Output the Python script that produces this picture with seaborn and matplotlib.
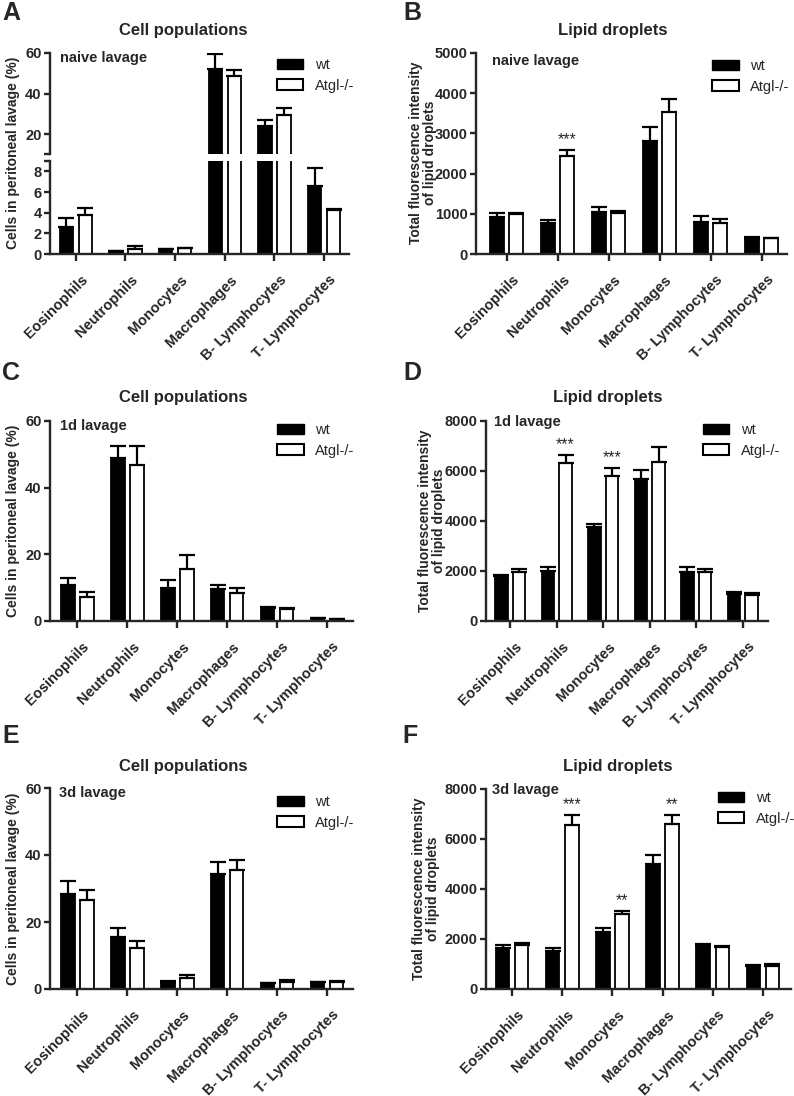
import seaborn as sns
import matplotlib.pyplot as plt
import matplotlib.transforms as mtransforms
import pandas as pd
import numpy as np
from matplotlib.patches import Patch

# ---- data ----
cells = ['Eosinophils', 'Neutrophils', 'Monocytes', 'Macrophages',
         'B- Lymphocytes', 'T- Lymphocytes']
groups = ['wt', 'Atgl-/-']

# A: cell populations, naive lavage (%)
naive_pop_wt = [2.6, 0.25, 0.45, 52.0, 23.9, 6.6]
naive_pop_wt_err = [0.85, 0.05, 0.05, 7.3, 3.2, 1.7]
naive_pop_ko = [3.8, 0.45, 0.55, 48.8, 29.6, 4.25]
naive_pop_ko_err = [0.65, 0.3, 0.05, 2.6, 3.3, 0.12]

# B: lipid droplets, naive lavage
naive_lip_wt = [920, 780, 1040, 2810, 800, 390]
naive_lip_wt_err = [100, 60, 120, 350, 150, 30]
naive_lip_ko = [1000, 2440, 1030, 3540, 780, 390]
naive_lip_ko_err = [30, 150, 30, 320, 80, 20]
naive_lip_stars = ['', '***', '', '', '', '']

# C: cell populations, 1d lavage
d1_pop_wt = [10.8, 49.0, 10.0, 9.5, 3.8, 0.8]
d1_pop_wt_err = [2.0, 3.4, 2.2, 1.3, 0.5, 0.1]
d1_pop_ko = [7.1, 46.8, 15.6, 8.3, 3.5, 0.6]
d1_pop_ko_err = [1.7, 5.7, 4.2, 1.5, 0.4, 0.1]

# D: lipid droplets, 1d lavage
d1_lip_wt = [1800, 2020, 3750, 5690, 1980, 1100]
d1_lip_wt_err = [50, 140, 150, 360, 190, 80]
d1_lip_ko = [1970, 6320, 5820, 6350, 1980, 1060]
d1_lip_ko_err = [110, 320, 310, 620, 120, 60]
d1_lip_stars = ['', '***', '***', '', '', '']

# E: cell populations, 3d lavage
d3_pop_wt = [28.4, 15.4, 2.2, 34.2, 1.7, 2.0]
d3_pop_wt_err = [3.9, 2.8, 0.1, 3.7, 0.1, 0.1]
d3_pop_ko = [26.6, 12.3, 3.4, 35.5, 2.2, 2.1]
d3_pop_ko_err = [3.0, 2.0, 0.7, 3.0, 0.5, 0.2]

# F: lipid droplets, 3d lavage
d3_lip_wt = [1650, 1530, 2290, 5020, 1750, 930]
d3_lip_wt_err = [110, 120, 160, 330, 60, 40]
d3_lip_ko = [1770, 6570, 3000, 6620, 1690, 930]
d3_lip_ko_err = [70, 390, 120, 340, 50, 60]
d3_lip_stars = ['', '***', '**', '**', '', '']

sns.set_style('ticks')
plt.rcParams['font.family'] = ['Liberation Sans', 'DejaVu Sans']
plt.rcParams['font.weight'] = 'bold'
plt.rcParams['axes.labelweight'] = 'bold'

W, H = 794, 1096
fig = plt.figure(figsize=(W / 100, H / 100), dpi=100)


def add_ax(l, t, r, b):
    # axes placed in pixel coordinates of the reference
    return fig.add_axes([l / W, 1 - b / H, (r - l) / W, (b - t) / H])


def fig_text(x, y, s, **kw):
    fig.text(x / W, 1 - y / H, s, **kw)


def draw_bars(ax, wt, wt_err, ko, ko_err, stars=None):
    df = pd.DataFrame({'cell': cells * 2,
                       'genotype': [groups[0]] * 6 + [groups[1]] * 6,
                       'value': wt + ko})
    sns.barplot(data=df, x='cell', y='value', hue='genotype',
                palette=['black', 'white'], edgecolor='black', linewidth=1.3,
                width=0.76, gap=0.29, errorbar=None, legend=False, ax=ax)
    for cont, err in zip(ax.containers, [wt_err, ko_err]):
        for bar, e in zip(cont, err):
            cx = bar.get_x() + bar.get_width() / 2
            ax.errorbar(cx, bar.get_height(), yerr=[[0], [e]], fmt='none',
                        ecolor='black', elinewidth=1.6, capsize=5.5,
                        capthick=1.6, zorder=1)
    if stars:
        ymax = ax.get_ylim()[1]
        for bar, e, s in zip(ax.containers[1], ko_err, stars):
            if s:
                cx = bar.get_x() + bar.get_width() / 2
                ax.text(cx, bar.get_height() + e + 0.03 * ymax, s,
                        ha='center', va='baseline', fontsize=11.5,
                        fontweight='normal')


def style(ax, xlim=(-0.55, 5.52)):
    sns.despine(ax=ax)
    for s in ['left', 'bottom']:
        ax.spines[s].set_linewidth(1.7)
    ax.tick_params(width=1.7, length=4, labelsize=10.5, pad=2)
    ax.set_xlabel('')
    ax.set_ylabel('')
    ax.set_xlim(*xlim)
    ax.set_xticks(range(len(cells)))
    ax.set_xticklabels(cells, rotation=45, ha='right', va='center',
                       rotation_mode='anchor', fontsize=10.5)
    ax.tick_params(axis='x', length=5, pad=6)
    # nudge the slanted labels down-right, like the original
    shift = mtransforms.ScaledTranslation(7 / 72, -6 / 72, fig.dpi_scale_trans)
    for lab in ax.get_xticklabels():
        lab.set_transform(lab.get_transform() + shift)


def add_legend(ax, x, y):
    handles = [Patch(facecolor='black', edgecolor='black', label=groups[0]),
               Patch(facecolor='white', edgecolor='black', linewidth=1.5,
                     label=groups[1])]
    ax.legend(handles=handles, loc='upper left', bbox_to_anchor=(x, y),
              frameon=False, borderaxespad=0, borderpad=0, handlelength=1.8,
              handleheight=0.75, handletextpad=0.8, labelspacing=0.45,
              prop={'size': 10.5, 'weight': 'normal'})


# ---------------- A (broken axis) ----------------
ax_a_top = add_ax(50, 53, 349, 154.5)
ax_a_bot = add_ax(50, 161, 349, 254)
draw_bars(ax_a_top, naive_pop_wt, naive_pop_wt_err, naive_pop_ko, naive_pop_ko_err)
draw_bars(ax_a_bot, naive_pop_wt, naive_pop_wt_err, naive_pop_ko, naive_pop_ko_err)
style(ax_a_bot, (-0.52, 5.5))
style(ax_a_top, (-0.52, 5.5))
ax_a_top.spines['bottom'].set_visible(False)
ax_a_top.tick_params(axis='x', bottom=False, labelbottom=False)
ax_a_top.set_ylim(10, 60)
ax_a_top.set_yticks([10, 20, 40, 60], ['', '20', '40', '60'])
ax_a_bot.set_ylim(0, 9)
ax_a_bot.set_yticks([0, 2, 4, 6, 8, 9], ['0', '2', '4', '6', '8', ''])
ax_a_top.text(0.033, 0.95, 'naive lavage', transform=ax_a_top.transAxes,
              ha='left', va='center', fontsize=10.5)
add_legend(ax_a_top, 0.76, 0.95)

# ---------------- B ----------------
ax_b = add_ax(476, 53, 787, 254)
ax_b.set_ylim(0, 5000)
draw_bars(ax_b, naive_lip_wt, naive_lip_wt_err, naive_lip_ko, naive_lip_ko_err,
          naive_lip_stars)
style(ax_b, (-0.6, 5.5))
ax_b.set_ylim(0, 5000)
ax_b.set_yticks(range(0, 5001, 1000))
ax_b.text(0.05, 0.96, 'naive lavage', transform=ax_b.transAxes,
          ha='left', va='center', fontsize=10.5)
add_legend(ax_b, 0.76, 0.97)

# ---------------- C ----------------
ax_c = add_ax(50, 421, 353, 621)
draw_bars(ax_c, d1_pop_wt, d1_pop_wt_err, d1_pop_ko, d1_pop_ko_err)
style(ax_c)
ax_c.set_ylim(0, 60)
ax_c.set_yticks([0, 20, 40, 60])
ax_c.text(0.033, 0.977, '1d lavage', transform=ax_c.transAxes,
          ha='left', va='center', fontsize=10.5)
add_legend(ax_c, 0.75, 0.99)

# ---------------- D ----------------
ax_d = add_ax(486, 421, 768, 621)
ax_d.set_ylim(0, 8000)
draw_bars(ax_d, d1_lip_wt, d1_lip_wt_err, d1_lip_ko, d1_lip_ko_err, d1_lip_stars)
style(ax_d, (-0.52, 5.54))
ax_d.set_ylim(0, 8000)
ax_d.set_yticks(range(0, 8001, 2000))
ax_d.text(0.03, 0.995, '1d lavage', transform=ax_d.transAxes,
          ha='left', va='center', fontsize=10.5)
add_legend(ax_d, 0.77, 0.99)

# ---------------- E ----------------
ax_e = add_ax(50, 788, 353, 989)
draw_bars(ax_e, d3_pop_wt, d3_pop_wt_err, d3_pop_ko, d3_pop_ko_err)
style(ax_e)
ax_e.set_ylim(0, 60)
ax_e.set_yticks([0, 20, 40, 60])
ax_e.text(0.03, 0.975, '3d lavage', transform=ax_e.transAxes,
          ha='left', va='center', fontsize=10.5)
add_legend(ax_e, 0.75, 0.965)

# ---------------- F ----------------
ax_f = add_ax(486, 789, 791, 989)
ax_f.set_ylim(0, 8000)
draw_bars(ax_f, d3_lip_wt, d3_lip_wt_err, d3_lip_ko, d3_lip_ko_err, d3_lip_stars)
style(ax_f, (-0.52, 5.56))
ax_f.set_ylim(0, 8000)
ax_f.set_yticks(range(0, 8001, 2000))
ax_f.text(0.02, 0.995, '3d lavage', transform=ax_f.transAxes,
          ha='left', va='center', fontsize=10.5)
add_legend(ax_f, 0.76, 0.99)

# titles, panel letters, y labels
for x, y, s in [(183, 30, 'Cell populations'), (613, 30, 'Lipid droplets'),
                (183, 398, 'Cell populations'), (608, 398, 'Lipid droplets'),
                (183, 766, 'Cell populations'), (618, 767, 'Lipid droplets')]:
    fig_text(x, y, s, ha='center', va='center', fontsize=12)

for x, y, s in [(11, 13, 'A'), (412, 13, 'B'), (11, 373, 'C'),
                (412, 373, 'D'), (11, 736, 'E'), (410, 736, 'F')]:
    fig_text(x, y, s, ha='center', va='center', fontsize=18)

for y in [153, 521, 889]:
    fig_text(13, y, 'Cells in peritoneal lavage (%)', rotation=90,
             ha='center', va='center', fontsize=10)
for x, y in [(423, 153), (432, 521), (426, 889)]:
    fig_text(x, y, 'Total fluorescence intensity\nof lipid droplets',
             rotation=90, ha='center', va='center', fontsize=10,
             multialignment='center', linespacing=1.05)

fig.savefig('out.png', dpi=100)
